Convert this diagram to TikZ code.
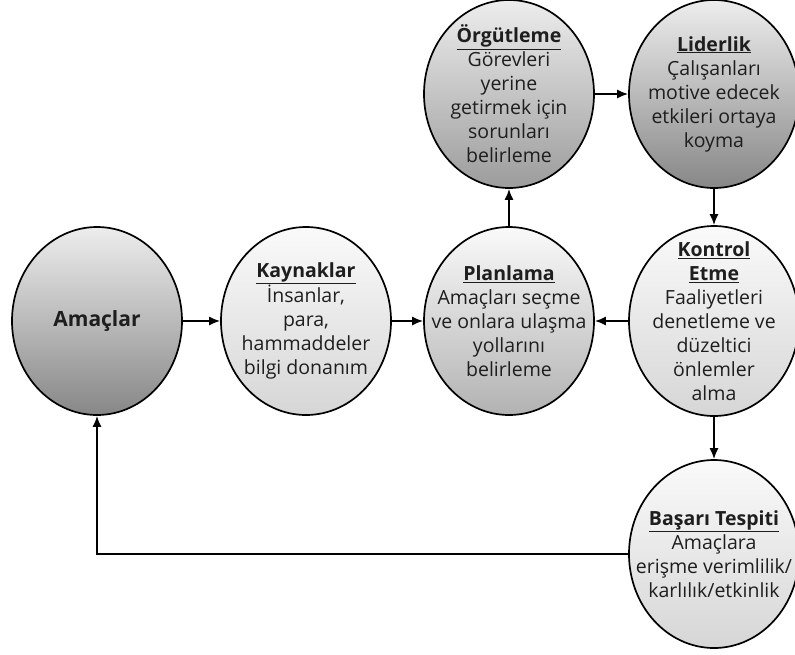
\documentclass[tikz,border=0pt]{standalone}
\usepackage{fontspec}
\setmainfont{Open Sans}
\usetikzlibrary{shapes.geometric,arrows.meta}
\definecolor{lighttop}{HTML}{FAFAFA}
\definecolor{darktop}{HTML}{EDEDED}
\definecolor{lightbot}{HTML}{D6D6D6}
\definecolor{midbot}{HTML}{B2B2B2}
\definecolor{darkbot}{HTML}{9C9C9C}
\definecolor{deepbot}{HTML}{878787}
\definecolor{inktext}{HTML}{1E1E1E}
\newcommand{\ttl}[1]{\textbf{\underline{#1}}}
\tikzset{
  circ/.style={ellipse, draw=black, line width=1.7pt, minimum width=170pt,
    minimum height=188pt, inner sep=0pt},
  txt/.style={align=center, text=inktext, inner sep=0pt,
    font=\fontsize{19.5}{24}\selectfont},
  light/.style={top color=lighttop, bottom color=lightbot},
  mid/.style={top color=lighttop, bottom color=midbot},
  dark/.style={top color=darktop, bottom color=darkbot},
  deep/.style={top color=darktop, bottom color=deepbot},
  arr/.style={line width=1.7pt, -{Latex[length=11pt,width=9pt]}},
}
\begin{document}
\begin{tikzpicture}[x=1pt,y=-1pt]
\useasboundingbox (0,0) rectangle (795,654);
\node[circ, deep] (ama) at (97,321) {};
\node[circ, light] (kay) at (306,321) {};
\node[circ, mid] (pla) at (509,321) {};
\node[circ, dark] (org) at (509,94) {};
\node[circ, deep] (lid) at (714,94) {};
\node[circ, light, minimum height=190pt] (kon) at (714,321) {};
\node[circ, light] (bas) at (714,554) {};
\node[txt, font=\fontsize{21}{24}\selectfont] (ama-t) at (ama) {\textbf{Amaçlar}};
\node[txt] (kay-t) at (kay) {\ttl{Kaynaklar}\\İnsanlar,\\para,\\hammaddeler\\bilgi donanım};
\node[txt] (pla-t) at (pla) {\ttl{Planlama}\\Amaçları seçme\\ve onlara ulaşma\\yollarını\\belirleme};
\node[txt] (org-t) at (org) {\ttl{Örgütleme}\\Görevleri\\yerine\\getirmek için\\sorunları\\belirleme};
\node[txt] (lid-t) at (lid) {\ttl{Liderlik}\\Çalışanları\\motive edecek\\etkileri ortaya\\koyma};
\node[txt] (kon-t) at (kon) {\ttl{Kontrol}\\\ttl{Etme}\\Faaliyetleri\\denetleme ve\\düzeltici\\önlemler\\alma};
\node[txt] (bas-t) at (bas) {\ttl{Başarı Tespiti}\\Amaçlara\\erişme verimlilik/\\karlılık/etkinlik};
\draw[arr] (ama) -- (kay);
\draw[arr] (kay) -- (pla);
\draw[arr] (pla) -- (org);
\draw[arr] (org) -- (lid);
\draw[arr] (lid) -- (kon);
\draw[arr] (kon) -- (pla);
\draw[arr] (kon) -- (bas);
\draw[arr] (bas.west) -| (ama.south);
\end{tikzpicture}
\end{document}
